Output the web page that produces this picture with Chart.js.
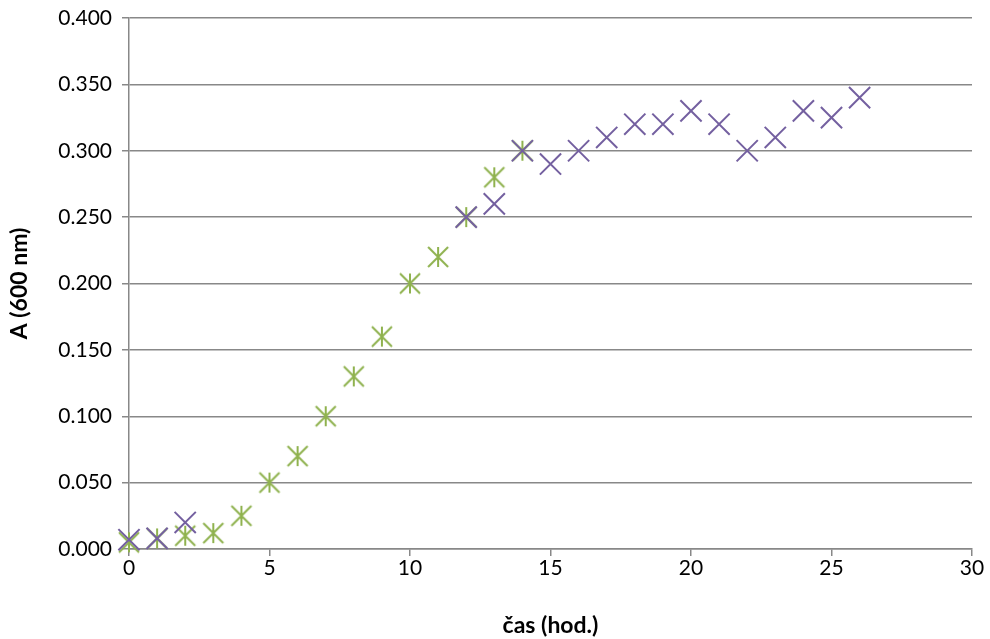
<!DOCTYPE html>
<html>
<head>
<meta charset="utf-8">
<script src="https://cdn.jsdelivr.net/npm/chart.js@4/dist/chart.umd.min.js"></script>
<style>
  html, body { margin: 0; padding: 0; background: #ffffff; }
  #wrap { width: 990px; height: 639px; }
</style>
</head>
<body>
<div id="wrap"><canvas id="chart" width="990" height="639"></canvas></div>
<script>
// Absorbance readings over time (hours)
const timesA = [0, 1, 2, 12, 13, 14, 15, 16, 17, 18, 19, 20, 21, 22, 23, 24, 25, 26];
const absorbanceA = [0.007, 0.008, 0.020, 0.250, 0.260, 0.300, 0.290, 0.300, 0.310, 0.320, 0.320, 0.330, 0.320, 0.300, 0.310, 0.330, 0.325, 0.340];

const timesB = [0, 1, 2, 3, 4, 5, 6, 7, 8, 9, 10, 11, 12, 13, 14];
const absorbanceB = [0.005, 0.008, 0.010, 0.012, 0.025, 0.050, 0.070, 0.100, 0.130, 0.160, 0.200, 0.220, 0.250, 0.280, 0.300];

const xTicks = [0, 5, 10, 15, 20, 25, 30];
const yTicks = [0, 0.05, 0.1, 0.15, 0.2, 0.25, 0.3, 0.35, 0.4];

const purple = '#7460a0';
const green = '#8fb24e';

// asterisk marker: diagonal cross plus a vertical stroke
function asteriskMarker(color) {
  const c = document.createElement('canvas');
  c.width = 24; c.height = 24;
  const g = c.getContext('2d');
  g.strokeStyle = color;
  g.lineWidth = 2;
  g.beginPath();
  g.moveTo(2, 2); g.lineTo(22, 22);
  g.moveTo(22, 2); g.lineTo(2, 22);
  g.moveTo(12, 2); g.lineTo(12, 22);
  g.stroke();
  return c;
}

const toPoints = (xs, ys) => xs.map((x, i) => ({ x: x, y: ys[i] }));

const FONT = 'Lato, "Liberation Sans", sans-serif';

new Chart(document.getElementById('chart'), {
  type: 'scatter',
  data: {
    datasets: [
      {
        label: 'A',
        data: toPoints(timesA, absorbanceA),
        pointStyle: 'crossRot',
        pointRadius: 15,
        pointHoverRadius: 15,
        borderColor: purple,
        backgroundColor: purple,
        pointBorderWidth: 2,
        clip: false,
        order: 0
      },
      {
        label: 'B',
        data: toPoints(timesB, absorbanceB),
        pointStyle: asteriskMarker(green),
        pointRadius: 12,
        borderColor: green,
        backgroundColor: green,
        clip: false,
        order: 1
      }
    ]
  },
  options: {
    responsive: false,
    animation: false,
    events: [],
    layout: { padding: { left: 6, right: 18, top: 18, bottom: 0 } },
    plugins: {
      legend: { display: false },
      tooltip: { enabled: false }
    },
    scales: {
      x: {
        type: 'linear',
        min: 0,
        max: 30,
        afterBuildTicks: s => { s.ticks = xTicks.map(v => ({ value: v })); },
        afterFit: s => { s.height = 90; },
        border: { display: true, color: '#888888', width: 1.5 },
        grid: {
          drawOnChartArea: false,
          drawTicks: true,
          tickLength: 7,
          color: '#888888',
          lineWidth: 1.5
        },
        ticks: {
          color: '#000000',
          font: { family: FONT, size: 21 },
          padding: 0,
          callback: v => String(v)
        },
        title: {
          display: true,
          text: 'čas (hod.)',
          color: '#000000',
          font: { family: FONT, size: 23, weight: 'bold' },
          padding: { top: 20, bottom: 0 }
        }
      },
      y: {
        type: 'linear',
        min: 0,
        max: 0.4,
        afterBuildTicks: s => { s.ticks = yTicks.map(v => ({ value: v })); },
        afterFit: s => { s.width = 123; s.paddingTop = 0; s.paddingBottom = 0; },
        border: { display: true, color: '#888888', width: 1.5 },
        grid: {
          color: '#888888',
          lineWidth: 1.5,
          drawTicks: true,
          tickLength: 7
        },
        ticks: {
          color: '#000000',
          font: { family: FONT, size: 21 },
          padding: 10,
          callback: v => v.toFixed(3)
        },
        title: {
          display: true,
          text: 'A (600 nm)',
          color: '#000000',
          font: { family: FONT, size: 23, weight: 'bold' },
          padding: { top: 0, bottom: 4 }
        }
      }
    }
  }
});
</script>
</body>
</html>
